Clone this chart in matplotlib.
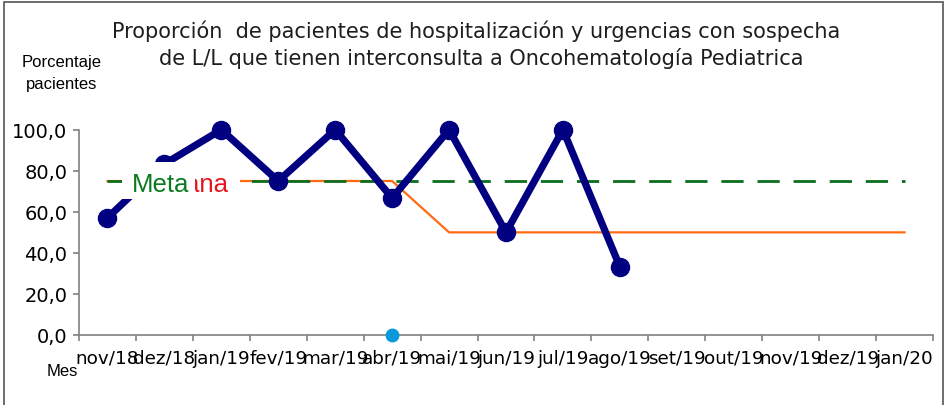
import matplotlib
matplotlib.use("Agg")
import matplotlib.pyplot as plt
from matplotlib.patches import Rectangle
import numpy as np

months = ["nov/18", "dez/18", "jan/19", "fev/19", "mar/19", "abr/19", "mai/19",
          "jun/19", "jul/19", "ago/19", "set/19", "out/19", "nov/19", "dez/19", "jan/20"]
porcentaje = [57.1, 83.3, 100.0, 75.0, 100.0, 66.7, 100.0, 50.0, 100.0, 33.3]
meta = [75.0] * 15
mediana = [75.0, 75.0, 75.0, 75.0, 75.0, 75.0, 50.0, 50.0, 50.0, 50.0,
           50.0, 50.0, 50.0, 50.0, 50.0]
marker_idx = 5
marker_val = 0.0
yticks = [0, 20, 40, 60, 80, 100]
title1 = "Proporción  de pacientes de hospitalización y urgencias con sospecha"
title2 = "de L/L que tienen interconsulta a Oncohematología Pediatrica"

plt.rcParams['font.family'] = ['DejaVu Sans']

fig = plt.figure(figsize=(9.47, 4.06), dpi=100)
ax = fig.add_axes([79/947, 1-336/406, (933-79)/947, (336-130.7)/406])

x = np.arange(len(months))
ax.plot(x, mediana, color="#FF6A13", lw=1.6, zorder=2, clip_on=False)
ax.plot(x, meta, color="#0A6E1E", lw=2.0, dashes=(8, 5), zorder=3, clip_on=False)
ax.plot(x[:len(porcentaje)], porcentaje, color="#000080", lw=5.2, marker="o",
        markersize=13, zorder=4, clip_on=False)
ax.plot([x[marker_idx]], [marker_val], "o", color="#0A9ADC", markersize=9,
        zorder=5, clip_on=False)

# overlapping data labels (white label boxes hide what lies beneath)
ax.add_patch(Rectangle((0.255, 66.2), 2.328 - 0.255, 84.3 - 66.2, fc="white",
                       ec="none", zorder=5.5, clip_on=False))
lab = dict(fontsize=18.5, va="baseline", family=["Liberation Sans", "DejaVu Sans"])
ax.text(2.135, 70.3, "Mediana", color="#E8141B", ha="right", zorder=6, **lab)
ax.add_patch(Rectangle((0.255, 66.2), 1.53 - 0.255, 84.3 - 66.2, fc="white",
                       ec="none", zorder=6.5, clip_on=False))
ax.text(0.43, 70.3, "Meta", color="#0A7A1E", ha="left", zorder=7, **lab)

ax.set_xlim(-0.5, len(months) - 0.5)
ax.set_ylim(0, 100)
ax.set_yticks(yticks)
ax.set_yticklabels([f"{v:.1f}".replace(".", ",") for v in yticks], fontsize=14)
ax.set_xticks(np.arange(len(months) + 1) - 0.5)
ax.set_xticklabels([])
ax.set_xticks(x, minor=True)
ax.set_xticklabels(months, minor=True, fontsize=13.2)
ax.tick_params(axis="x", which="minor", length=0, pad=10)
ax.tick_params(axis="x", which="major", length=4.5, color="#808080", width=1.2)
ax.tick_params(axis="y", length=4.5, color="#808080", width=1.2, pad=4)
for s in ["top", "right"]:
    ax.spines[s].set_visible(False)
for s in ["left", "bottom"]:
    ax.spines[s].set_color("#808080")
    ax.spines[s].set_linewidth(1.2)

t1 = fig.text(476/947, 1-38/406, title1, ha="center", va="baseline",
              fontsize=14, color="#1e1e1e")
t2 = fig.text(481/947, 1-65/406, title2, ha="center", va="baseline",
              fontsize=14, color="#1e1e1e")
fig.canvas.draw()
w1 = t1.get_window_extent().width
fs = 14 * 733 / w1
t1.set_fontsize(fs)
t2.set_fontsize(fs)

side = dict(ha="center", va="center", fontsize=12, family=["Liberation Sans", "DejaVu Sans"])
fig.text(62/947, 1-62/406, "Porcentaje", **side)
fig.text(62/947, 1-84/406, "pacientes", **side)
fig.text(62/947, 1-371/406, "Mes", **side)

fig.add_artist(Rectangle((4/947, -0.02), (943-4)/947, 1.02-3/406,
                         transform=fig.transFigure, fill=False, ec="#555555", lw=1.2))

fig.savefig("out.png", dpi=100)
